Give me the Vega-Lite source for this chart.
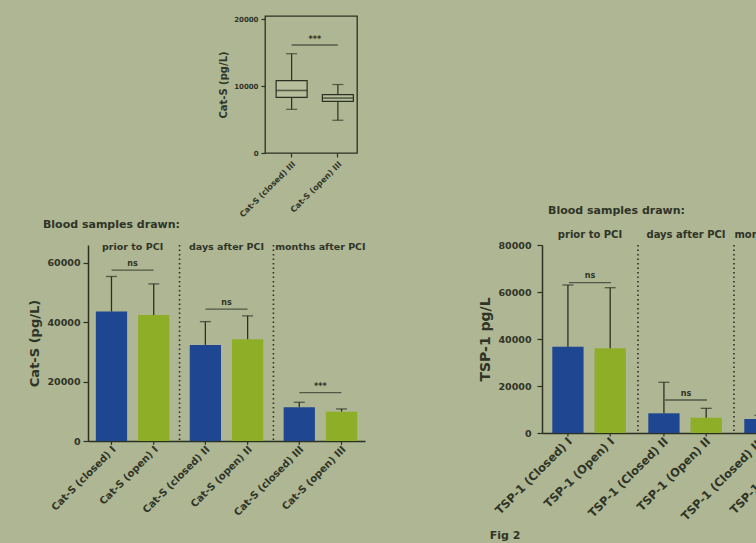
{
  "$schema": "https://vega.github.io/schema/vega-lite/v6.json",
  "background": "#aeb693",
  "padding": {"left": 28, "top": 14, "right": 0, "bottom": 60},
  "spacing": -15,
  "config": {
    "view": {"stroke": null},
    "font": "DejaVu Sans",
    "axis": {
      "grid": false,
      "labelFont": "DejaVu Sans",
      "labelFontWeight": "bold",
      "labelColor": "#2f3427",
      "titleFont": "DejaVu Sans",
      "titleFontWeight": "bold",
      "titleColor": "#2f3427",
      "domainColor": "#2b3023",
      "tickColor": "#2b3023",
      "domainWidth": 1.5,
      "tickWidth": 1.2
    },
    "title": {"font": "DejaVu Sans", "fontWeight": "bold", "color": "#2f3427"},
    "text": {"font": "DejaVu Sans", "fontWeight": "bold", "color": "#2f3427"}
  },
  "datasets": {
    "box": [
      {"cat": "Cat-S (closed) III", "lower": 6519, "q1": 8296, "median": 9333, "q3": 10815, "upper": 14815},
      {"cat": "Cat-S (open) III", "lower": 4889, "q1": 7700, "median": 8200, "q3": 8700, "upper": 10222}
    ],
    "boxsig": [
      {"a": "Cat-S (closed) III", "b": "Cat-S (open) III", "y": 16119, "ty": 16900, "mark": "***"}
    ],
    "cats": [
      {"group": "I", "type": "closed", "label": "Cat-S (closed) I", "mean": 43600, "upper": 55400},
      {"group": "I", "type": "open", "label": "Cat-S (open) I", "mean": 42470, "upper": 52900},
      {"group": "II", "type": "closed", "label": "Cat-S (closed) II", "mean": 32360, "upper": 40200},
      {"group": "II", "type": "open", "label": "Cat-S (open) II", "mean": 34280, "upper": 42130},
      {"group": "III", "type": "closed", "label": "Cat-S (closed) III", "mean": 11360, "upper": 13040},
      {"group": "III", "type": "open", "label": "Cat-S (open) III", "mean": 9880, "upper": 10790}
    ],
    "catsig": [
      {"group": "I", "y": 57570, "ty": 59600, "mark": "ns"},
      {"group": "II", "y": 44440, "ty": 46500, "mark": "ns"},
      {"group": "III", "y": 16260, "ty": 18300, "mark": "***"}
    ],
    "cathead": [
      {"group": "I", "head": "prior to PCI", "y": 65300},
      {"group": "II", "head": "days after PCI", "y": 65300},
      {"group": "III", "head": "months after PCI", "y": 65300}
    ],
    "seps": [{"group": "II"}, {"group": "III"}],
    "tsp": [
      {"group": "I", "type": "closed", "label": "TSP-1 (Closed) I", "mean": 36720, "upper": 62980},
      {"group": "I", "type": "open", "label": "TSP-1 (Open) I", "mean": 36040, "upper": 61830},
      {"group": "II", "type": "closed", "label": "TSP-1 (Closed) II", "mean": 8380, "upper": 21570},
      {"group": "II", "type": "open", "label": "TSP-1 (Open) II", "mean": 6520, "upper": 10500},
      {"group": "III", "type": "closed", "label": "TSP-1 (Closed) III", "mean": 5960, "upper": 7500},
      {"group": "III", "type": "open", "label": "TSP-1 (Open) III", "mean": 4800, "upper": 6500}
    ],
    "tspsig": [
      {"group": "I", "y": 63950, "ty": 66600, "mark": "ns"},
      {"group": "II", "y": 14040, "ty": 16700, "mark": "ns"}
    ],
    "tsphead": [
      {"group": "I", "head": "prior to PCI", "y": 84200},
      {"group": "II", "head": "days after PCI", "y": 84200},
      {"group": "III", "head": "months after PCI", "y": 84200}
    ],
    "note": [
      {"group": "I", "text": "Fig 2", "y": -44000}
    ]
  },
  "vconcat": [
    {
      "spacing": 0,
      "hconcat": [
        {"width": 129, "height": 10, "data": {"values": []}, "mark": "point"},
        {
          "width": 92,
          "height": 137,
          "view": {"stroke": "#2b3023", "strokeWidth": 1.3},
          "data": {"name": "box"},
          "layer": [
            {
              "mark": {"type": "rule", "color": "#2b3023", "strokeWidth": 1.2},
              "encoding": {
                "x": {"field": "cat", "type": "nominal", "scale": {"range": [3.5, 96], "paddingInner": 0.33, "paddingOuter": 0.165},
                      "axis": {"title": null, "labelAngle": 315, "domain": false, "labelFontSize": 8, "tickSize": 4, "labelPadding": 3}},
                "y": {"field": "lower", "type": "quantitative", "scale": {"domain": [0, 20448], "nice": false},
                      "axis": {"values": [0, 5000, 10000, 15000, 20000], "format": "d", "title": "Cat-S (pg/L)", "domain": false, "labelFontSize": 7, "titleFontSize": 10, "tickSize": 4, "labelPadding": 3, "titlePadding": 5}},
                "y2": {"field": "upper"}
              }
            },
            {
              "mark": {"type": "bar", "fill": "#b6be9c", "stroke": "#2b3023", "strokeWidth": 1.2},
              "encoding": {
                "x": {"field": "cat", "type": "nominal"},
                "y": {"field": "q1", "type": "quantitative"},
                "y2": {"field": "q3"}
              }
            },
            {
              "mark": {"type": "tick", "color": "#2b3023", "size": 31, "thickness": 1.6},
              "encoding": {
                "x": {"field": "cat", "type": "nominal"},
                "y": {"field": "median", "type": "quantitative"}
              }
            },
            {
              "mark": {"type": "tick", "color": "#2b3023", "size": 11, "thickness": 1.2},
              "encoding": {
                "x": {"field": "cat", "type": "nominal"},
                "y": {"field": "lower", "type": "quantitative"}
              }
            },
            {
              "mark": {"type": "tick", "color": "#2b3023", "size": 11, "thickness": 1.2},
              "encoding": {
                "x": {"field": "cat", "type": "nominal"},
                "y": {"field": "upper", "type": "quantitative"}
              }
            },
            {
              "data": {"name": "boxsig"},
              "mark": {"type": "rule", "color": "#2b3023", "strokeWidth": 1.2},
              "encoding": {
                "x": {"field": "a", "type": "nominal"},
                "x2": {"field": "b"},
                "y": {"field": "y", "type": "quantitative"}
              }
            },
            {
              "data": {"name": "boxsig"},
              "mark": {"type": "text", "fontSize": 8, "baseline": "middle"},
              "encoding": {
                "x": {"field": "a", "type": "nominal", "bandPosition": 1.25},
                "y": {"field": "ty", "type": "quantitative"},
                "text": {"field": "mark"}
              }
            }
          ]
        }
      ]
    },
    {
      "spacing": 112,
      "hconcat": [
        {
          "width": 277,
          "height": 196,
          "title": {"text": "Blood samples drawn:", "anchor": "start", "frame": "bounds", "offset": 12, "dx": 14, "fontSize": 11},
          "layer": [
            {
              "data": {"name": "cats"},
              "mark": {"type": "bar"},
              "encoding": {
                "x": {"field": "group", "type": "nominal", "sort": ["I", "II", "III"], "scale": {"paddingInner": 0.1, "paddingOuter": 0.025},
                      "axis": {"labels": false, "ticks": false, "title": null}},
                "xOffset": {"field": "type", "type": "nominal", "sort": ["closed", "open"], "scale": {"paddingInner": 0.26, "paddingOuter": 0.13}},
                "y": {"field": "mean", "type": "quantitative", "scale": {"domain": [0, 66000], "nice": false},
                      "axis": {"values": [0, 20000, 40000, 60000], "format": "d", "title": "Cat-S (pg/L)", "labelFontSize": 9.5, "titleFontSize": 13, "tickSize": 5, "labelPadding": 3, "titlePadding": 5}},
                "color": {"field": "type", "type": "nominal", "scale": {"domain": ["closed", "open"], "range": ["#1f4690", "#8fae28"]}, "legend": null}
              }
            },
            {
              "data": {"name": "cats"},
              "mark": {"type": "rule", "color": "#2b3023", "strokeWidth": 1.3},
              "encoding": {
                "x": {"field": "group", "type": "nominal"},
                "xOffset": {"field": "type", "type": "nominal"},
                "y": {"field": "mean", "type": "quantitative"},
                "y2": {"field": "upper"}
              }
            },
            {
              "data": {"name": "cats"},
              "mark": {"type": "rule", "color": "#2b3023", "strokeWidth": 1.2},
              "encoding": {
                "x": {"field": "group", "type": "nominal"},
                "xOffset": {"field": "type", "type": "nominal"},
                "y": {"datum": 0},
                "y2": {"datum": -1300}
              }
            },
            {
              "data": {"name": "cats"},
              "mark": {"type": "tick", "color": "#2b3023", "size": 11, "thickness": 1.3},
              "encoding": {
                "x": {"field": "group", "type": "nominal"},
                "xOffset": {"field": "type", "type": "nominal"},
                "y": {"field": "upper", "type": "quantitative"}
              }
            },
            {
              "data": {"name": "cats"},
              "mark": {"type": "text", "angle": 315, "align": "right", "baseline": "middle", "fontSize": 10, "dx": -3, "dy": 7},
              "encoding": {
                "x": {"field": "group", "type": "nominal"},
                "xOffset": {"field": "type", "type": "nominal"},
                "y": {"datum": 0},
                "text": {"field": "label"}
              }
            },
            {
              "data": {"name": "catsig"},
              "mark": {"type": "tick", "color": "#2b3023", "size": 42, "thickness": 1.3},
              "encoding": {
                "x": {"field": "group", "type": "nominal"},
                "y": {"field": "y", "type": "quantitative"}
              }
            },
            {
              "data": {"name": "catsig"},
              "mark": {"type": "text", "fontSize": 8, "baseline": "middle"},
              "encoding": {
                "x": {"field": "group", "type": "nominal"},
                "y": {"field": "ty", "type": "quantitative"},
                "text": {"field": "mark"}
              }
            },
            {
              "data": {"name": "seps"},
              "mark": {"type": "rule", "color": "#2b3023", "strokeWidth": 1.6, "strokeDash": [1.5, 3]},
              "encoding": {
                "x": {"field": "group", "type": "nominal", "bandPosition": -0.0556}
              }
            },
            {
              "data": {"name": "cathead"},
              "mark": {"type": "text", "fontSize": 9.5, "baseline": "middle"},
              "encoding": {
                "x": {"field": "group", "type": "nominal"},
                "y": {"field": "y", "type": "quantitative"},
                "text": {"field": "head"}
              }
            }
          ]
        },
        {
          "width": 288,
          "height": 188,
          "title": {"text": "Blood samples drawn:", "anchor": "start", "frame": "group", "offset": 14, "dx": 6, "fontSize": 11},
          "layer": [
            {
              "data": {"name": "tsp"},
              "mark": {"type": "bar"},
              "encoding": {
                "x": {"field": "group", "type": "nominal", "sort": ["I", "II", "III"], "scale": {"paddingInner": 0.1, "paddingOuter": 0.05},
                      "axis": {"labels": false, "ticks": false, "title": null}},
                "xOffset": {"field": "type", "type": "nominal", "sort": ["closed", "open"], "scale": {"paddingInner": 0.33, "paddingOuter": 0.165}},
                "y": {"field": "mean", "type": "quantitative", "scale": {"domain": [0, 80000], "nice": false},
                      "axis": {"values": [0, 20000, 40000, 60000, 80000], "format": "d", "title": "TSP-1 pg/L", "labelFontSize": 9.5, "titleFontSize": 14, "tickSize": 5, "labelPadding": 6, "titlePadding": 5}},
                "color": {"field": "type", "type": "nominal", "scale": {"domain": ["closed", "open"], "range": ["#1f4690", "#8fae28"]}, "legend": null}
              }
            },
            {
              "data": {"name": "tsp"},
              "mark": {"type": "rule", "color": "#2b3023", "strokeWidth": 1.3},
              "encoding": {
                "x": {"field": "group", "type": "nominal"},
                "xOffset": {"field": "type", "type": "nominal"},
                "y": {"field": "mean", "type": "quantitative"},
                "y2": {"field": "upper"}
              }
            },
            {
              "data": {"name": "tsp"},
              "mark": {"type": "rule", "color": "#2b3023", "strokeWidth": 1.2},
              "encoding": {
                "x": {"field": "group", "type": "nominal"},
                "xOffset": {"field": "type", "type": "nominal"},
                "y": {"datum": 0},
                "y2": {"datum": -1500}
              }
            },
            {
              "data": {"name": "tsp"},
              "mark": {"type": "tick", "color": "#2b3023", "size": 11, "thickness": 1.3},
              "encoding": {
                "x": {"field": "group", "type": "nominal"},
                "xOffset": {"field": "type", "type": "nominal"},
                "y": {"field": "upper", "type": "quantitative"}
              }
            },
            {
              "data": {"name": "tsp"},
              "mark": {"type": "text", "angle": 315, "align": "right", "baseline": "middle", "fontSize": 11.5, "dx": -3, "dy": 7},
              "encoding": {
                "x": {"field": "group", "type": "nominal"},
                "xOffset": {"field": "type", "type": "nominal"},
                "y": {"datum": 0},
                "text": {"field": "label"}
              }
            },
            {
              "data": {"name": "tspsig"},
              "mark": {"type": "tick", "color": "#2b3023", "size": 42, "thickness": 1.3},
              "encoding": {
                "x": {"field": "group", "type": "nominal"},
                "y": {"field": "y", "type": "quantitative"}
              }
            },
            {
              "data": {"name": "tspsig"},
              "mark": {"type": "text", "fontSize": 8, "baseline": "middle"},
              "encoding": {
                "x": {"field": "group", "type": "nominal"},
                "y": {"field": "ty", "type": "quantitative"},
                "text": {"field": "mark"}
              }
            },
            {
              "data": {"name": "seps"},
              "mark": {"type": "rule", "color": "#2b3023", "strokeWidth": 1.6, "strokeDash": [1.5, 3]},
              "encoding": {
                "x": {"field": "group", "type": "nominal", "bandPosition": -0.0556}
              }
            },
            {
              "data": {"name": "tsphead"},
              "mark": {"type": "text", "fontSize": 10, "baseline": "middle"},
              "encoding": {
                "x": {"field": "group", "type": "nominal"},
                "y": {"field": "y", "type": "quantitative"},
                "text": {"field": "head"}
              }
            },
            {
              "data": {"name": "note"},
              "mark": {"type": "text", "fontSize": 11, "baseline": "middle", "dx": -85},
              "encoding": {
                "x": {"field": "group", "type": "nominal"},
                "y": {"field": "y", "type": "quantitative"},
                "text": {"field": "text"}
              }
            }
          ]
        }
      ]
    }
  ]
}
